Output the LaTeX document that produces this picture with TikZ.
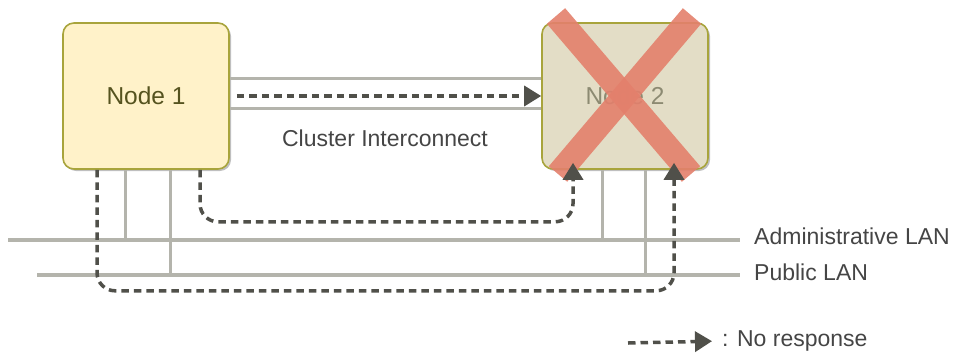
\documentclass[tikz,border=0pt]{standalone}
\usepackage{fontspec}
\setmainfont{Liberation Sans}
\usetikzlibrary{arrows.meta,positioning,shadows}

\definecolor{onefill}{HTML}{FFF2C9}
\definecolor{twofill}{HTML}{E3DDC6}
\definecolor{nodeedge}{HTML}{A8A43C}
\definecolor{onetext}{HTML}{55531F}
\definecolor{twotext}{HTML}{8C8A72}
\definecolor{wire}{HTML}{B4B4AC}
\definecolor{signal}{HTML}{50504A}
\definecolor{cross}{HTML}{E3806C}
\definecolor{labeltext}{HTML}{454545}

\begin{document}
\begin{tikzpicture}[x=1pt, y=-1pt,
    machine/.style={rectangle, rounded corners=11pt, draw=nodeedge, line width=1.6pt,
        minimum width=166pt, minimum height=146pt, font=\fontsize{24.5}{28}\selectfont,
        drop shadow={shadow xshift=2pt, shadow yshift=-2pt, opacity=0.25, fill=black}},
    lbl/.style={inner sep=2pt, text=labeltext, font=\fontsize{23}{26}\selectfont},
    wireline/.style={draw=wire, line width=3pt},
    lan/.style={draw=wire, line width=4.5pt},
    noresp/.style={draw=signal, line width=3.5pt, dash pattern=on 7.5pt off 5pt,
        -{Triangle[length=17pt, width=20pt]}, rounded corners=18pt}]
    \useasboundingbox (0,0) rectangle (957,356);

    % the two nodes
    \node[machine, fill=onefill, text=onetext] (n1) at (146,96) {Node 1};
    \node[machine, fill=twofill, text=twotext] (n2) at (625,96) {Node 2};

    % cluster interconnect
    \draw[wireline] ([yshift=18pt]n1.east) -- ([yshift=18pt]n2.west);
    \draw[wireline] ([yshift=-12pt]n1.east) -- ([yshift=-12pt]n2.west);
    \node[lbl] (ci) at (385,138) {Cluster Interconnect};

    % LANs
    \coordinate (admL) at (8,240);
    \coordinate (admR) at (740,240);
    \coordinate (pubL) at (37,275);
    \coordinate (pubR) at (740,275);
    \draw[lan] (admL) -- (admR);
    \draw[lan] (pubL) -- (pubR);
    \node[lbl, right=12pt of admR, yshift=4pt] (adm) {Administrative LAN};
    \node[lbl, right=12pt of pubR, yshift=3pt] (pub) {Public LAN};

    \draw[wireline] ([xshift=-21pt]n1.south) -- ([xshift=-21pt]n1.south |- admL);
    \draw[wireline] ([xshift=24pt]n1.south) -- ([xshift=24pt]n1.south |- pubL);
    \draw[wireline] ([xshift=-23pt]n2.south) -- ([xshift=-23pt]n2.south |- admL);
    \draw[wireline] ([xshift=20pt]n2.south) -- ([xshift=20pt]n2.south |- pubL);

    % node 2 is down
    \draw[cross, opacity=0.9, line width=24pt] (556,16) -- (691,174);
    \draw[cross, opacity=0.9, line width=24pt] (692,16) -- (558,174);

    % heartbeats with no response
    \coordinate (tipA) at ([xshift=-52pt, yshift=7pt]n2.south);
    \coordinate (tipB) at ([xshift=49pt, yshift=7pt]n2.south);
    \draw[noresp] ([xshift=7pt]n1.east) -- (n2.west);
    \draw[noresp] ([xshift=54pt]n1.south) -- ++(0,52) -| (tipA);
    \draw[noresp] ([xshift=-49pt]n1.south) -- ++(0,121) -| (tipB);

    % legend
    \coordinate (legA) at (628,343);
    \node[lbl, anchor=west] (leg) at (720,341) {: No response};
    \draw[noresp, shorten >=8pt] (legA) -- (leg.west);
\end{tikzpicture}
\end{document}
